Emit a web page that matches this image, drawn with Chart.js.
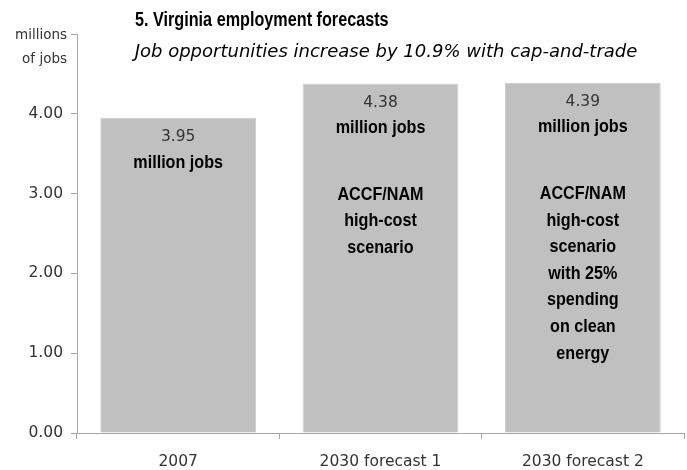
<!DOCTYPE html>
<html>
<head>
<meta charset="utf-8">
<script src="https://cdn.jsdelivr.net/npm/chart.js@4"></script>
<style>
  body { margin: 0; background: #fff; }
  #wrap { width: 687px; height: 470px; }
</style>
</head>
<body>
<div id="wrap"><canvas id="jobsChart" width="687" height="470"></canvas></div>
<script>
const categories = ["2007", "2030 forecast 1", "2030 forecast 2"];
const jobs = [3.95, 4.38, 4.39];
const valueLabels = ["3.95", "4.38", "4.39"];
const descriptions = [
    [],
    ["ACCF/NAM", "high-cost", "scenario"],
    ["ACCF/NAM", "high-cost", "scenario", "with 25%", "spending", "on clean", "energy"],
];
const yTicks = [0, 1, 2, 3, 4, 5];

const ctx = document.getElementById("jobsChart");
const plainFont = "'DejaVu Sans', sans-serif";
const boldNarrow = "bold 19px 'Liberation Sans', Arial, sans-serif";

// draw text squeezed horizontally (no narrow bold face installed)
const squeezed = (c, text, x, y, sx) => {
    c.save();
    c.translate(x, y);
    c.scale(sx, 1);
    c.fillText(text, 0, 0);
    c.restore();
};

// labels inside the bars + title block
const barText = {
    id: "barText",
    afterDatasetsDraw(chart) {
        const c = chart.ctx;
        const bars = chart.getDatasetMeta(0).data;
        c.save();
        c.textAlign = "center";
        c.textBaseline = "middle";
        bars.forEach((bar, i) => {
            const top = bar.y;
            c.fillStyle = "#333";
            c.font = "15.5px " + plainFont;
            c.fillText(valueLabels[i], bar.x, top + 19);
            c.fillStyle = "#000";
            c.font = boldNarrow;
            squeezed(c, "million jobs", bar.x, top + 44.5, 0.85);
            descriptions[i].forEach((line, j) => {
                squeezed(c, line, bar.x, top + 111 + j * 26.6, 0.85);
            });
        });

        // axis unit label in place of the top tick
        const y5 = chart.scales.y.getPixelForValue(5);
        c.textAlign = "right";
        c.fillStyle = "#333";
        c.font = "13.5px " + plainFont;
        c.fillText("millions", 67, y5 + 1);
        c.fillText("of jobs", 67, y5 + 25);

        // title + subtitle
        c.textAlign = "left";
        c.fillStyle = "#000";
        c.font = "bold 20px 'Liberation Sans', Arial, sans-serif";
        squeezed(c, "5. Virginia employment forecasts", 135, 20, 0.81);
        c.textAlign = "center";
        c.font = "italic 18px " + plainFont;
        c.fillText("Job opportunities increase by 10.9% with cap-and-trade", 386, 52);
        c.restore();
    },
};

new Chart(ctx, {
    type: "bar",
    data: {
        labels: categories,
        datasets: [{
            data: jobs,
            backgroundColor: "#c0c0c0",
            borderColor: "#cdcdcd",
            borderWidth: 1,
            categoryPercentage: 0.77,
            barPercentage: 1,
        }],
    },
    options: {
        responsive: false,
        animation: false,
        layout: { padding: { top: 34, right: 3, left: 0, bottom: 0 } },
        plugins: {
            legend: { display: false },
            tooltip: { enabled: false },
        },
        scales: {
            x: {
                grid: {
                    offset: true,
                    drawOnChartArea: false,
                    drawTicks: true,
                    tickLength: 6,
                    color: "#a6a6a6",
                },
                border: { color: "#a6a6a6" },
                ticks: {
                    color: "#333",
                    font: { family: plainFont, size: 15.5 },
                    padding: 14,
                },
                afterFit: (scale) => { scale.height = 37; },
            },
            y: {
                min: 0,
                max: 5,
                afterBuildTicks: (scale) => {
                    scale.ticks = yTicks.map((v) => ({ value: v }));
                },
                grid: {
                    drawOnChartArea: false,
                    drawTicks: true,
                    tickLength: 6,
                    color: "#a6a6a6",
                },
                border: { color: "#a6a6a6" },
                ticks: {
                    color: "#333",
                    font: { family: plainFont, size: 15.5 },
                    padding: 8,
                    callback: (v) => (v === 5 ? "" : v.toFixed(2)),
                },
                afterFit: (scale) => { scale.width = 77; },
            },
        },
    },
    plugins: [barText],
});
</script>
</body>
</html>
